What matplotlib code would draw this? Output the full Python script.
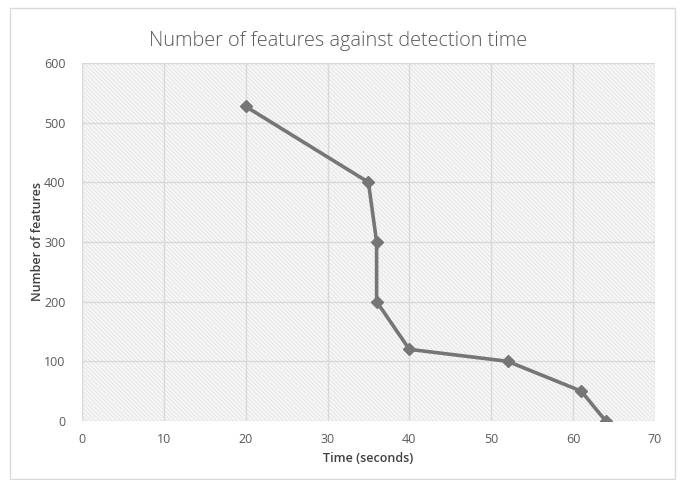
import matplotlib
matplotlib.use("Agg")
import matplotlib.pyplot as plt
from matplotlib.patches import Rectangle

# detection time (s) vs number of features kept
tempo = [20, 35, 36, 36, 40, 52, 61, 64]
features = [527, 400, 300, 200, 120, 100, 50, 0]

x_ticks = [0, 10, 20, 30, 40, 50, 60, 70]
y_ticks = [0, 100, 200, 300, 400, 500, 600]

plt.rcParams['font.family'] = ['Open Sans', 'DejaVu Sans']
plt.rcParams['hatch.color'] = '#e0e0e0'
plt.rcParams['hatch.linewidth'] = 0.5

fig = plt.figure(figsize=(6.8, 4.8), dpi=100)
fig.patch.set_facecolor('white')
fig.patches.append(Rectangle((0.014, 0.003), 0.978, 0.98, transform=fig.transFigure,
                             fill=False, edgecolor='#d9d9d9', linewidth=1))

ax = fig.add_axes([0.1206, 0.123, 0.8424, 0.746])
ax.set_facecolor('#f6f6f6')
ax.patch.set_hatch('\\\\\\\\\\\\\\\\')
ax.patch.set_edgecolor('#e0e0e0')

ax.plot(tempo, features, color='#767676', linewidth=2.6, marker='D',
        markersize=6.5, markerfacecolor='#767676', markeredgecolor='#767676', zorder=3)

ax.set_xlim(0, 70)
ax.set_ylim(0, 600)
ax.set_xticks(x_ticks)
ax.set_yticks(y_ticks)
ax.grid(True, color='#d9d9d9', linewidth=1)
ax.set_axisbelow(True)
for s in ax.spines.values():
    s.set_visible(False)
ax.tick_params(length=0, colors='#595959', labelsize=9)
ax.tick_params(axis='x', pad=9)
ax.tick_params(axis='y', pad=12)

ax.set_xlabel('Time (seconds)', fontsize=9, color='#404040', fontweight='semibold', labelpad=4)
ax.set_ylabel('Number of features', fontsize=9, color='#404040', fontweight='semibold', labelpad=0)
fig.text(0.497, 0.915, 'Number of features against detection time', ha='center', va='center',
         fontsize=14.3, color='#595959', fontweight='light')

fig.savefig('out.png', dpi=100)
